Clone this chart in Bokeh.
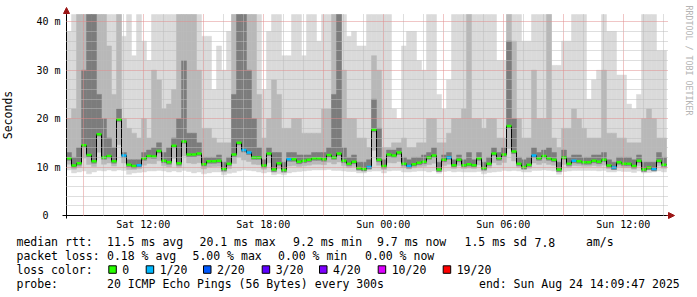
import math
from datetime import datetime, timedelta, timezone
import numpy as np
from bokeh.plotting import figure
from bokeh.models import Range1d, FixedTicker, DatetimeTickFormatter, Arrow, NormalHead, Label
from bokeh.core.properties import value
from bokeh.embed import file_html
from bokeh.resources import INLINE

# ---------------- data ----------------
END_TIME = datetime(2025, 8, 24, 14, 9, 47, tzinfo=timezone.utc)
SPAN_HOURS = 30
STEP_MINUTES = 15

median_ms = [
    11.8, 10.3, 10.8, 14.5, 12.5, 11.2, 16.8, 12.0, 12.3, 11.2, 19.8, 12.4, 10.5, 10.2, 10.4,
    11.8, 12.3, 12.2, 13.3, 11.3, 11.0, 14.4, 10.8, 15.3, 12.6, 12.6, 12.8, 10.6, 11.2, 11.2,
    11.3, 9.6, 10.7, 12.6, 15.0, 13.5, 13.0, 12.0, 12.0, 10.3, 12.8, 9.5, 10.8, 9.4, 11.6,
    11.6, 11.1, 11.3, 11.5, 11.8, 11.8, 11.6, 12.5, 12.0, 12.8, 11.3, 10.7, 11.1, 9.8, 9.6,
    10.0, 17.7, 11.5, 10.2, 12.6, 12.4, 13.0, 10.7, 10.2, 10.6, 10.9, 11.1, 12.0, 12.4, 9.5,
    11.5, 12.0, 10.4, 11.5, 10.4, 10.6, 10.4, 11.8, 9.8, 10.7, 12.8, 11.8, 12.6, 18.5, 13.2,
    10.7, 10.0, 10.5, 12.4, 11.8, 12.3, 11.8, 11.5, 9.5, 12.0, 10.7, 11.3, 11.2, 11.0, 11.0,
    11.3, 11.1, 11.5, 10.3, 9.9, 11.0, 10.7, 10.7, 10.2, 11.3, 9.5, 9.9, 9.6, 11.3, 10.5,
]

loss_count = [
    0, 0, 0, 0, 0, 0, 0, 0, 0, 0, 0, 1, 0, 0, 1,
    0, 0, 0, 0, 0, 0, 0, 0, 0, 0, 0, 0, 0, 0, 0,
    0, 0, 0, 0, 0, 1, 1, 0, 0, 0, 0, 0, 0, 0, 1,
    0, 0, 0, 0, 0, 0, 0, 0, 0, 0, 0, 0, 0, 0, 0,
    1, 0, 0, 0, 0, 0, 0, 0, 1, 0, 0, 0, 0, 0, 0,
    0, 1, 0, 0, 0, 0, 0, 0, 0, 0, 0, 0, 0, 0, 0,
    0, 0, 0, 1, 0, 0, 0, 0, 0, 0, 0, 1, 0, 0, 0,
    0, 0, 0, 0, 1, 0, 0, 0, 0, 0, 0, 0, 1, 0, 0,
]

smoke_max = [
    38, 41.5, 41.5, 41.5, 41.5, 41.5, 41.5, 41.5, 41.5, 41.5, 41.5, 37, 41.5, 33, 41.5,
    36, 32, 41.5, 41.5, 41.5, 41.5, 41.5, 41.5, 41.5, 41.5, 41.5, 41.5, 37, 37, 26,
    35, 30, 38, 41.5, 41.5, 41.5, 41.5, 41.5, 41.5, 26, 38, 41.5, 41.5, 33, 33,
    41.5, 41.5, 33, 41.5, 41.5, 36, 41.5, 41.5, 41.5, 41.5, 41.5, 37, 38, 35, 35,
    41.5, 41.5, 41.5, 41.5, 41.5, 22, 20, 35, 38, 38, 32, 30, 41.5, 41.5, 25,
    22, 28, 41.5, 41.5, 41.5, 41.5, 41.5, 41.5, 41.5, 41.5, 41.5, 32, 32, 41.5, 41.5,
    41.5, 36, 36, 41.5, 41.5, 41.5, 41.5, 31, 31, 36, 36, 41.5, 41.5, 41.5, 24,
    28, 30, 41.5, 38, 38, 29, 29, 23, 22, 25, 41.5, 41.5, 41.5, 34, 34,
]

smoke_mid = [
    20, 22, 41.5, 41.5, 41.5, 41.5, 41.5, 41.5, 35, 25, 41.5, 20, 18, 17, 16,
    20, 16, 30, 28, 22, 23, 26, 41.5, 41.5, 41.5, 41.5, 30, 18, 18, 16,
    15, 15, 15, 41.5, 41.5, 41.5, 41.5, 41.5, 25, 16, 20, 28, 25, 18, 18,
    20, 20, 17, 17, 17, 17, 22, 22, 41.5, 41.5, 30, 20, 20, 16, 16,
    14, 33, 30, 14, 14, 15, 15, 16, 14, 14, 15, 15, 20, 20, 15,
    15, 17, 20, 20, 22, 41.5, 20, 20, 18, 20, 20, 16, 16, 41.5, 36,
    20, 16, 16, 30, 20, 20, 41.5, 16, 14, 18, 18, 22, 20, 18, 16,
    16, 16, 30, 17, 17, 16, 16, 15, 15, 15, 20, 22, 20, 16, 16,
]

smoke_dark = [
    13, 12, 14, 30, 41.5, 41.5, 25, 20, 16, 14, 22, 13, 11.5, 11.5, 11.5,
    13, 13.5, 14, 15, 13, 14, 16, 20, 32, 17, 17, 15, 12, 12, 12,
    12.5, 11, 12, 25, 41.5, 41.5, 30, 20, 14, 11.5, 14, 13, 13, 11, 13,
    13, 12.5, 12.5, 12.5, 13, 13, 13, 14, 25, 41.5, 14, 12, 12.5, 11, 11,
    11.5, 24, 18, 11.5, 13.5, 13.5, 14, 12, 11.5, 12, 12, 12.5, 13, 14, 11,
    12.5, 13, 11.5, 12.5, 11.5, 13, 11.5, 13, 11, 12, 14, 13, 14, 36, 20,
    12, 11.5, 12, 14, 13, 13.5, 14, 13, 11, 13.5, 12, 12.5, 12.5, 12, 12,
    12.5, 12.5, 13, 11.5, 11, 12, 12, 12, 11.5, 12.5, 11, 11, 11, 13, 12,
]

smoke_min = [
    9.4, 8.8, 9.0, 9.2, 8.6, 9.0, 9.3, 9.2, 9.4, 9.2, 9.4, 9.3, 8.5, 8.8, 8.9,
    9.0, 9.2, 9.2, 9.3, 9.2, 9.0, 9.2, 9.0, 9.3, 9.1, 8.8, 9.0, 8.6, 8.8, 9.0,
    9.0, 8.4, 8.7, 8.9, 9.2, 9.4, 9.3, 9.2, 9.0, 8.8, 9.0, 8.4, 8.6, 8.4, 8.8,
    9.0, 9.1, 9.2, 9.3, 9.4, 9.4, 9.4, 9.5, 9.3, 9.3, 9.2, 9.1, 9.1, 8.8, 8.8,
    9.1, 9.2, 9.2, 8.8, 9.2, 9.3, 9.3, 9.0, 9.0, 9.1, 9.2, 9.2, 9.0, 9.2, 8.7,
    9.1, 9.2, 9.0, 9.1, 9.0, 9.0, 9.0, 9.1, 8.6, 8.9, 9.0, 9.1, 9.3, 9.2, 9.3,
    9.2, 9.0, 9.0, 9.3, 9.3, 9.4, 9.3, 9.2, 8.5, 9.1, 9.2, 9.3, 9.3, 9.3, 9.3,
    9.3, 9.2, 9.3, 9.0, 9.0, 9.2, 9.1, 9.1, 8.9, 9.2, 8.8, 8.9, 9.0, 9.2, 9.0,
]

y_ticks = [0, 10, 20, 30, 40]
y_tick_labels = ["0\u00a0\u00a0", "10 m", "20 m", "30 m", "40 m"]

loss_levels = [0, 1, 2, 3, 4, 10, 19]
loss_labels = ["0", "1/20", "2/20", "3/20", "4/20", "10/20", "19/20"]
loss_colors = ["#26ff00", "#00b8ff", "#0059ff", "#5e00ff", "#7e00ff", "#dd00ff", "#ff0000"]

legend_rtt = [("median rtt:", 16), ("11.5 ms avg", 106.5), ("20.1 ms max", 199), ("9.2 ms min", 292.5),
              ("9.7 ms now", 376.5), ("1.5 ms sd", 464), ("7.8", 534), ("am/s", 585.5)]
legend_loss = [("packet loss:", 16), ("0.18 % avg", 106.5), ("5.00 % max", 192), ("0.00 % min", 277.5),
               ("0.00 % now", 364.5)]
legend_probe = [("probe:", 16), ("20 ICMP Echo Pings (56 Bytes) every 300s", 106.5),
                ("end: Sun Aug 24 14:09:47 2025", 478.5)]

# ---------------- geometry ----------------
W, H = 697, 297
PLOT_LEFT_PX, AXIS_Y_PX = 66, 215
MS_PER_PX = 180.0 * 1000.0       # one pixel = 180 s
PX_PER_UNIT = 4.8434              # pixels per millisecond of rtt
Y_TOP = 41.5


def ms(t):
    return t.timestamp() * 1000.0


start_time = END_TIME - timedelta(hours=SPAN_HOURS)
T0 = ms(start_time)
T1 = ms(END_TIME)


def px_x(px):
    return T0 + (px - PLOT_LEFT_PX) * MS_PER_PX


def px_y(py):
    return (AXIS_Y_PX - py) / PX_PER_UNIT


n = len(median_ms)
left = np.array([ms(start_time + timedelta(minutes=STEP_MINUTES * k)) for k in range(n)])
right = left + STEP_MINUTES * 60 * 1000.0
med = np.array(median_ms)
lo = np.array(smoke_min)
hi = np.array(smoke_max)
mid = np.array(smoke_mid)
dark = np.array(smoke_dark)

FONT = "DejaVu Sans Mono"

p = figure(width=W, height=H, output_backend="svg", toolbar_location=None,
           x_axis_type="datetime",
           x_range=Range1d(px_x(0), px_x(W)), y_range=Range1d(px_y(H), px_y(0)),
           min_border=0, min_border_left=0, min_border_right=0, min_border_top=0, min_border_bottom=0)
p.outline_line_color = None
p.background_fill_color = "white"
p.border_fill_color = "white"

# smoke
p.quad(left=left, right=right, bottom=lo, top=hi, fill_color="#dadada", line_color="#dadada", line_width=0.5)
p.quad(left=left, right=right, bottom=(lo + med) / 2, top=np.maximum(mid, med),
       fill_color="#b8b8b8", line_color="#b8b8b8", line_width=0.5)
p.quad(left=left, right=right, bottom=med - 0.4, top=np.maximum(dark, med),
       fill_color="#7c7c7c", line_color="#7c7c7c", line_width=0.5)

# median line
xs = np.column_stack([left, right]).ravel()
ys = np.repeat(med, 2)
p.line(xs, ys, line_color="black", line_width=1)
col_of = {lv: c for lv, c in zip(loss_levels, loss_colors)}
seg_colors = [col_of[l] for l in loss_count]
p.segment(x0=left, x1=right, y0=med, y1=med, line_color=seg_colors, line_width=2.5)

# axes
hour = 3600 * 1000.0
label_ticks = [ms(datetime(2025, 8, 23, 12, tzinfo=timezone.utc)) + 6 * hour * i for i in range(5)]
major_grid = [ms(datetime(2025, 8, 23, 9, tzinfo=timezone.utc)) + 3 * hour * i for i in range(10)]
minor_grid = [ms(datetime(2025, 8, 23, 9, tzinfo=timezone.utc)) + hour * i for i in range(30)]
minor_grid = [t for t in minor_grid if t not in major_grid and t < T1]

xa = p.xaxis[0]
xa.ticker = FixedTicker(ticks=label_ticks)
fmt = "%a %H:%M"
xa.formatter = DatetimeTickFormatter(hours=fmt, days=fmt, hourmin=fmt, minutes=fmt, months=fmt, context=None)
xa.fixed_location = 0
xa.bounds = (px_x(62), px_x(668))
ya = p.yaxis[0]
ya.ticker = FixedTicker(ticks=y_ticks)
ya.major_label_overrides = {t: s for t, s in zip(y_ticks, y_tick_labels)}
ya.fixed_location = T0
ya.bounds = (px_y(218), px_y(11))
for ax in (xa, ya):
    ax.major_tick_out = 0
    ax.major_tick_in = 0
    ax.minor_tick_out = 0
    ax.minor_tick_in = 0
    ax.axis_line_color = "black"
    ax.major_label_text_font = FONT
    ax.major_label_text_font_size = "10px"
    ax.major_label_text_color = "black"
xa.major_label_standoff = 3
ya.major_label_standoff = 6
ya.axis_label = "Seconds"
ya.axis_label_text_font = FONT
ya.axis_label_text_font_size = "11.5px"
ya.axis_label_text_font_style = "normal"
ya.axis_label_text_color = "black"
ya.axis_label_standoff = 18

# grids drawn over the smoke
xg = p.xgrid[0]
xg.ticker = FixedTicker(ticks=major_grid, minor_ticks=minor_grid)
xg.cross_bounds = (0, Y_TOP)
yg = p.ygrid[0]
yg.ticker = FixedTicker(ticks=[10, 20, 30, 40], minor_ticks=[v for v in range(2, 41, 2) if v % 10])
yg.cross_bounds = (T0, px_x(668))
for g in (xg, yg):
    g.level = "annotation"
    g.grid_line_color = "#e08c8c"
    g.grid_line_dash = "1 1"
    g.grid_line_width = 1
    g.minor_grid_line_color = "#bdbdbd"
    g.minor_grid_line_dash = "1 1"
    g.minor_grid_line_width = 1

# axis arrow heads
arrow_col = "#9b1515"
p.add_layout(Arrow(end=NormalHead(size=6, fill_color=arrow_col, line_color=arrow_col, line_width=1),
                   x_start=T0, y_start=px_y(14), x_end=T0, y_end=px_y(7),
                   line_color=arrow_col, line_width=1))
p.add_layout(Arrow(end=NormalHead(size=6, fill_color=arrow_col, line_color=arrow_col, line_width=1),
                   x_start=px_x(666), y_start=0, x_end=px_x(674), y_end=0,
                   line_color=arrow_col, line_width=1))

p.add_layout(Label(x=px_x(688.5), y=px_y(5), text="RRDTOOL / TOBI OETIKER", angle=-math.pi / 2,
                   text_font=FONT, text_font_size="8.3px", text_color="#b4b4b4",
                   text_align="left", text_baseline="middle"))

# ---------------- legend ----------------
rows_py = [241.7, 255.0, 269.3, 283.3]
txt, tx, ty = [], [], []
for items, py in ((legend_rtt, rows_py[0]), (legend_loss, rows_py[1]), (legend_probe, rows_py[3])):
    for s, xx in items:
        txt.append(s); tx.append(px_x(xx)); ty.append(px_y(py))
txt.append("loss color:"); tx.append(px_x(16)); ty.append(px_y(rows_py[2]))
sq_px = [108.3, 145.7, 203.0, 261.7, 319.0, 377.7, 442.7]
for s, xx in zip(loss_labels, sq_px):
    txt.append(s); tx.append(px_x(xx + 13.5)); ty.append(px_y(rows_py[2]))
p.text(x=tx, y=ty, text=txt, text_font=value(FONT), text_font_size="11.5px",
       text_baseline="middle", text_align="left", text_color="black")
p.quad(left=[px_x(v) for v in sq_px], right=[px_x(v + 7.5) for v in sq_px],
       top=[px_y(265.3)] * 7, bottom=[px_y(272.8)] * 7,
       fill_color=loss_colors, line_color="black", line_width=1)

open("out.html", "w").write(file_html(p, INLINE))
